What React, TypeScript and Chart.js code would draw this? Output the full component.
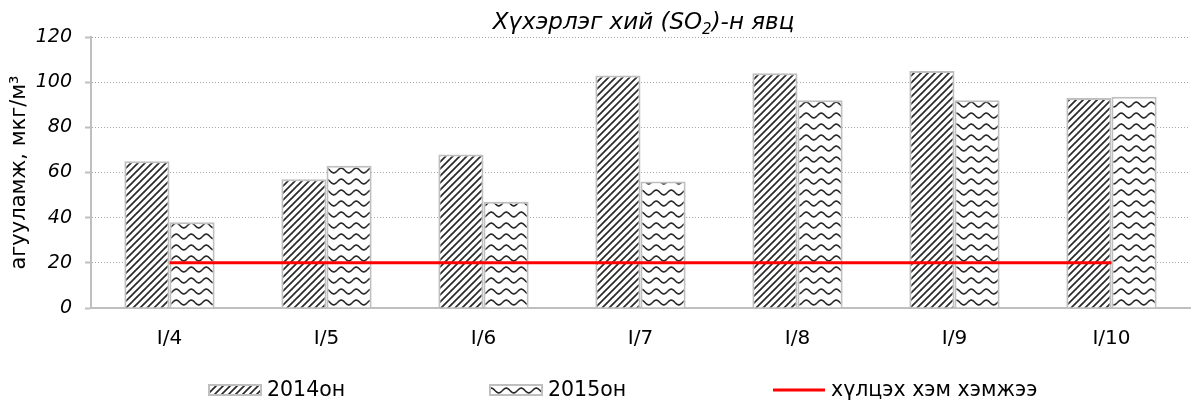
import React, { useEffect, useRef } from "react";
import { Chart, registerables } from "chart.js";

Chart.register(...registerables);

const categories = ["I/4", "I/5", "I/6", "I/7", "I/8", "I/9", "I/10"];
const values2014 = [65, 57, 68, 103, 104, 105, 93];
const values2015 = [38, 63, 47, 56, 92, 92, 93.5];
const limitValues = [20, 20, 20, 20, 20, 20, 20];
const yMin = 0;
const yMax = 120;
const yStep = 20;
const seriesLabels = ["2014он", "2015он", "хүлцэх хэм хэмжээ"];
const titleBefore = "Хүхэрлэг хий (SO";
const titleSub = "2";
const titleAfter = ")-н явц";
const yTitle = "агууламж, мкг/м³";

const FONT = '"DejaVu Sans", sans-serif';

function makeStripePattern(ctx: CanvasRenderingContext2D): CanvasPattern | string {
  const s = 7;
  const c = document.createElement("canvas");
  c.width = s;
  c.height = s;
  const g = c.getContext("2d")!;
  g.fillStyle = "#ffffff";
  g.fillRect(0, 0, s, s);
  g.strokeStyle = "#2a2a2a";
  g.lineWidth = 1.7;
  g.lineCap = "square";
  g.beginPath();
  g.moveTo(-1, s + 1);
  g.lineTo(s + 1, -1);
  g.moveTo(-1, 1);
  g.lineTo(1, -1);
  g.moveTo(s - 1, s + 1);
  g.lineTo(s + 1, s - 1);
  g.stroke();
  return ctx.createPattern(c, "repeat") || "#888";
}

function makeWavePattern(ctx: CanvasRenderingContext2D): CanvasPattern | string {
  const w = 15;
  const h = 11;
  const c = document.createElement("canvas");
  c.width = w;
  c.height = h;
  const g = c.getContext("2d")!;
  g.fillStyle = "#ffffff";
  g.fillRect(0, 0, w, h);
  g.strokeStyle = "#2a2a2a";
  g.lineWidth = 1.6;
  g.beginPath();
  for (let i = -1; i <= w + 1; i += 0.5) {
    const y = h / 2 + 2.4 * Math.sin((2 * Math.PI * i) / w);
    if (i === -1) g.moveTo(i, y);
    else g.lineTo(i, y);
  }
  g.stroke();
  return ctx.createPattern(c, "repeat") || "#888";
}

export default function App() {
  const canvasRef = useRef<HTMLCanvasElement | null>(null);

  useEffect(() => {
    const canvas = canvasRef.current;
    if (!canvas) return;
    const ctx = canvas.getContext("2d")!;
    const stripe = makeStripePattern(ctx);
    const wave = makeWavePattern(ctx);

    const titlePlugin = {
      id: "customTitle",
      afterDraw(chart: any) {
        const c = chart.ctx as CanvasRenderingContext2D;
        const area = chart.chartArea;
        c.save();
        const mainFont = `italic 23px ${FONT}`;
        const subFont = `italic 15px ${FONT}`;
        c.font = mainFont;
        const w1 = c.measureText(titleBefore).width;
        const w3 = c.measureText(titleAfter).width;
        c.font = subFont;
        const w2 = c.measureText(titleSub).width;
        const total = w1 + w2 + w3;
        const cx = (area.left + area.right) / 2 + 3;
        let x = cx - total / 2;
        const baseY = 29;
        c.fillStyle = "#000";
        c.textBaseline = "alphabetic";
        c.textAlign = "left";
        c.font = mainFont;
        c.fillText(titleBefore, x, baseY);
        x += w1;
        c.font = subFont;
        c.fillText(titleSub, x, baseY + 5);
        x += w2;
        c.font = mainFont;
        c.fillText(titleAfter, x, baseY);
        c.restore();
      },
    };

    const legendPlugin = {
      id: "customLegend",
      afterDraw(chart: any) {
        const c = chart.ctx as CanvasRenderingContext2D;
        c.save();
        const starts = [209, 490, 773];
        const boxW = 52;
        const boxH = 10;
        const cy = 390;
        c.font = `20.5px ${FONT}`;
        c.textBaseline = "middle";
        c.textAlign = "left";
        seriesLabels.forEach((label, i) => {
          const x = starts[i];
          if (i < 2) {
            c.fillStyle = i === 0 ? stripe : wave;
            c.fillRect(x, cy - boxH / 2, boxW, boxH);
            c.strokeStyle = "#bfbfbf";
            c.lineWidth = 2;
            c.strokeRect(x, cy - boxH / 2, boxW, boxH);
          } else {
            c.strokeStyle = "#ff0000";
            c.lineWidth = 3;
            c.beginPath();
            c.moveTo(x, cy);
            c.lineTo(x + boxW, cy);
            c.stroke();
          }
          c.fillStyle = "#000";
          c.fillText(label, x + boxW + 6, cy + 1);
        });
        c.restore();
      },
    };

    const chart = new Chart(canvas, {
      type: "bar",
      data: {
        labels: categories,
        datasets: [
          {
            type: "line",
            label: seriesLabels[2],
            data: limitValues,
            borderColor: "#ff0000",
            borderWidth: 3,
            pointRadius: 0,
            fill: false,
            order: 0,
          } as any,
          {
            label: seriesLabels[0],
            data: values2014,
            backgroundColor: stripe as any,
            borderColor: "#bfbfbf",
            borderWidth: 2,
            categoryPercentage: 0.575,
            barPercentage: 1,
            order: 1,
          },
          {
            label: seriesLabels[1],
            data: values2015,
            backgroundColor: wave as any,
            borderColor: "#bfbfbf",
            borderWidth: 2,
            categoryPercentage: 0.575,
            barPercentage: 1,
            order: 1,
          },
        ],
      },
      options: {
        animation: false,
        responsive: true,
        maintainAspectRatio: false,
        layout: { padding: { top: 37, right: 1, left: 0, bottom: 0 } },
        plugins: {
          legend: { display: false },
          title: { display: false },
          tooltip: { enabled: false },
        },
        scales: {
          x: {
            grid: { display: false, drawTicks: false },
            border: { display: true, color: "#bfbfbf", width: 2 },
            ticks: {
              color: "#000",
              font: { family: FONT, size: 20 },
              padding: 19,
              maxRotation: 0,
            },
            afterFit(scale: any) {
              scale.height = 99;
            },
          },
          y: {
            min: yMin,
            max: yMax,
            ticks: {
              stepSize: yStep,
              color: "#000",
              font: { family: FONT, size: 19, style: "italic" },
              padding: 13,
            },
            grid: {
              color: "#a6a6a6",
              lineWidth: 1,
              tickColor: "#bfbfbf",
              tickLength: 6,
              tickWidth: 2,
            },
            border: { display: true, color: "#bfbfbf", width: 2, dash: [1, 2] },
            title: {
              display: true,
              text: yTitle,
              color: "#000",
              font: { family: FONT, size: 21 },
              padding: { top: 7, bottom: 0 },
            },
            afterFit(scale: any) {
              scale.width = 91;
            },
          },
        },
      },
      plugins: [titlePlugin, legendPlugin],
    });

    return () => chart.destroy();
  }, []);

  return (
    <div style={{ position: "absolute", left: 0, top: 0, width: 1191, height: 407 }}>
      <canvas ref={canvasRef} />
    </div>
  );
}
